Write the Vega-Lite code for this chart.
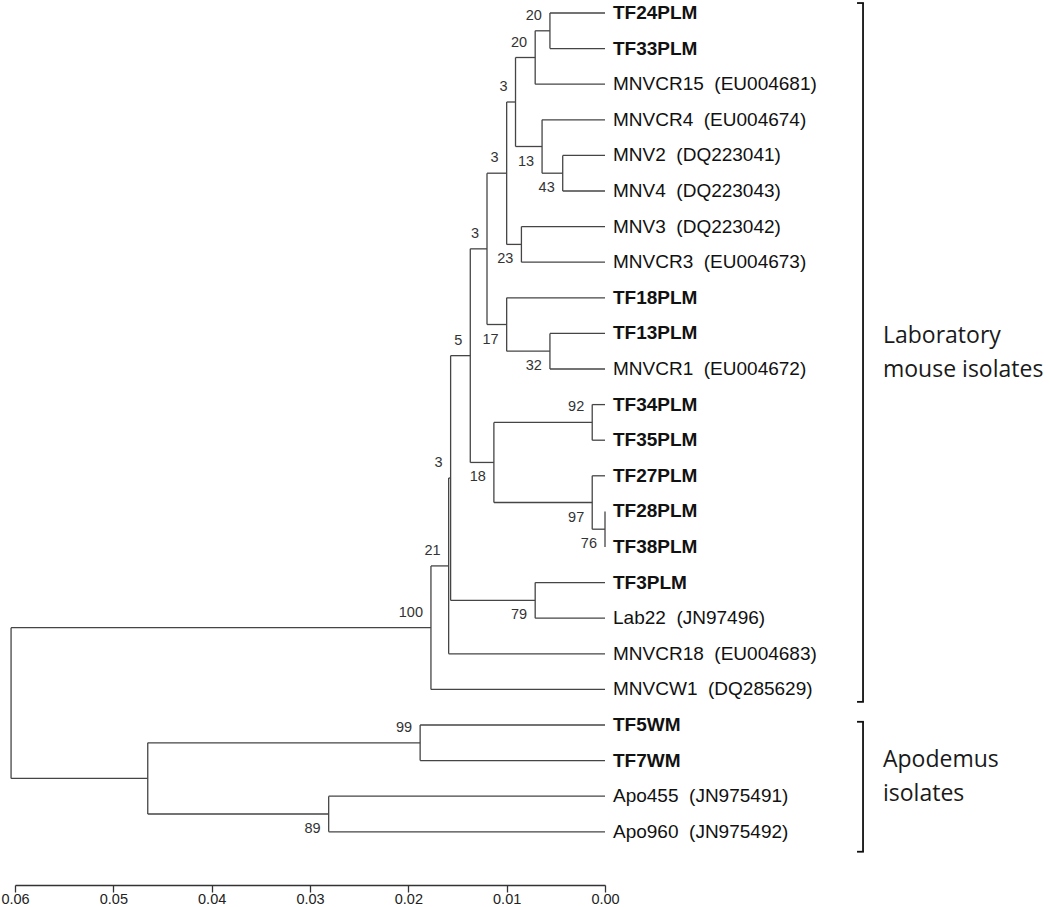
{
  "$schema": "https://vega.github.io/schema/vega-lite/v6.json",
  "width": 590,
  "height": 885,
  "autosize": {"type": "none"},
  "padding": {"left": 15, "top": 0, "right": 445, "bottom": 22},
  "background": "white",
  "config": {"view": {"stroke": null}},
  "datasets": {
    "segments": [
      {"x":0.0056,"x2":0,"y":0,"y2":0},
      {"x":0.0056,"x2":0,"y":1,"y2":1},
      {"x":0.0071,"x2":0,"y":2,"y2":2},
      {"x":0.0064,"x2":0,"y":3,"y2":3},
      {"x":0.0043,"x2":0,"y":4,"y2":4},
      {"x":0.0043,"x2":0,"y":5,"y2":5},
      {"x":0.0085,"x2":0,"y":6,"y2":6},
      {"x":0.0085,"x2":0,"y":7,"y2":7},
      {"x":0.0100,"x2":0,"y":8,"y2":8},
      {"x":0.0056,"x2":0,"y":9,"y2":9},
      {"x":0.0056,"x2":0,"y":10,"y2":10},
      {"x":0.0013,"x2":0,"y":11,"y2":11},
      {"x":0.0013,"x2":0,"y":12,"y2":12},
      {"x":0.0013,"x2":0,"y":13,"y2":13},
      {"x":0.0071,"x2":0,"y":16,"y2":16},
      {"x":0.0071,"x2":0,"y":17,"y2":17},
      {"x":0.0159,"x2":0,"y":18,"y2":18},
      {"x":0.0177,"x2":0,"y":19,"y2":19},
      {"x":0.0188,"x2":0,"y":20,"y2":20},
      {"x":0.0188,"x2":0,"y":21,"y2":21},
      {"x":0.0281,"x2":0,"y":22,"y2":22},
      {"x":0.0281,"x2":0,"y":23,"y2":23},
      {"x":0.0071,"x2":0.0056,"y":0.5,"y2":0.5},
      {"x":0.0091,"x2":0.0071,"y":1.25,"y2":1.25},
      {"x":0.0064,"x2":0.0043,"y":4.5,"y2":4.5},
      {"x":0.0091,"x2":0.0064,"y":3.75,"y2":3.75},
      {"x":0.0100,"x2":0.0091,"y":2.5,"y2":2.5},
      {"x":0.0100,"x2":0.0085,"y":6.5,"y2":6.5},
      {"x":0.0120,"x2":0.0100,"y":4.5,"y2":4.5},
      {"x":0.0100,"x2":0.0056,"y":9.5,"y2":9.5},
      {"x":0.0120,"x2":0.0100,"y":8.75,"y2":8.75},
      {"x":0.0137,"x2":0.0120,"y":6.625,"y2":6.625},
      {"x":0.0113,"x2":0.0013,"y":11.5,"y2":11.5},
      {"x":0.0013,"x2":0,"y":14.5,"y2":14.5},
      {"x":0.0113,"x2":0.0013,"y":13.75,"y2":13.75},
      {"x":0.0137,"x2":0.0113,"y":12.625,"y2":12.625},
      {"x":0.0157,"x2":0.0137,"y":9.625,"y2":9.625},
      {"x":0.0157,"x2":0.0071,"y":16.5,"y2":16.5},
      {"x":0.0159,"x2":0.0157,"y":13.0625,"y2":13.0625},
      {"x":0.0177,"x2":0.0159,"y":15.5313,"y2":15.5313},
      {"x":0.0604,"x2":0.0177,"y":17.2656,"y2":17.2656},
      {"x":0.0465,"x2":0.0188,"y":20.5,"y2":20.5},
      {"x":0.0465,"x2":0.0281,"y":22.5,"y2":22.5},
      {"x":0.0604,"x2":0.0465,"y":21.5,"y2":21.5},
      {"x":0.0056,"x2":0.0056,"y":0,"y2":1},
      {"x":0.0071,"x2":0.0071,"y":0.5,"y2":2},
      {"x":0.0043,"x2":0.0043,"y":4,"y2":5},
      {"x":0.0064,"x2":0.0064,"y":3,"y2":4.5},
      {"x":0.0091,"x2":0.0091,"y":1.25,"y2":3.75},
      {"x":0.0085,"x2":0.0085,"y":6,"y2":7},
      {"x":0.0100,"x2":0.0100,"y":2.5,"y2":6.5},
      {"x":0.0056,"x2":0.0056,"y":9,"y2":10},
      {"x":0.0100,"x2":0.0100,"y":8,"y2":9.5},
      {"x":0.0120,"x2":0.0120,"y":4.5,"y2":8.75},
      {"x":0.0013,"x2":0.0013,"y":11,"y2":12},
      {"x":0,"x2":0,"y":14,"y2":15},
      {"x":0.0013,"x2":0.0013,"y":13,"y2":14.5},
      {"x":0.0113,"x2":0.0113,"y":11.5,"y2":13.75},
      {"x":0.0137,"x2":0.0137,"y":6.625,"y2":12.625},
      {"x":0.0071,"x2":0.0071,"y":16,"y2":17},
      {"x":0.0157,"x2":0.0157,"y":9.625,"y2":16.5},
      {"x":0.0159,"x2":0.0159,"y":13.0625,"y2":18},
      {"x":0.0177,"x2":0.0177,"y":15.5313,"y2":19},
      {"x":0.0188,"x2":0.0188,"y":20,"y2":21},
      {"x":0.0281,"x2":0.0281,"y":22,"y2":23},
      {"x":0.0465,"x2":0.0465,"y":20.5,"y2":22.5},
      {"x":0.0604,"x2":0.0604,"y":17.2656,"y2":21.5}
    ],
    "leaves": [
      {"y":0,"label":"TF24PLM","bold":true},
      {"y":1,"label":"TF33PLM","bold":true},
      {"y":2,"label":"MNVCR15\u00a0 (EU004681)","bold":false},
      {"y":3,"label":"MNVCR4\u00a0 (EU004674)","bold":false},
      {"y":4,"label":"MNV2\u00a0 (DQ223041)","bold":false},
      {"y":5,"label":"MNV4\u00a0 (DQ223043)","bold":false},
      {"y":6,"label":"MNV3\u00a0 (DQ223042)","bold":false},
      {"y":7,"label":"MNVCR3\u00a0 (EU004673)","bold":false},
      {"y":8,"label":"TF18PLM","bold":true},
      {"y":9,"label":"TF13PLM","bold":true},
      {"y":10,"label":"MNVCR1\u00a0 (EU004672)","bold":false},
      {"y":11,"label":"TF34PLM","bold":true},
      {"y":12,"label":"TF35PLM","bold":true},
      {"y":13,"label":"TF27PLM","bold":true},
      {"y":14,"label":"TF28PLM","bold":true},
      {"y":15,"label":"TF38PLM","bold":true},
      {"y":16,"label":"TF3PLM","bold":true},
      {"y":17,"label":"Lab22\u00a0 (JN97496)","bold":false},
      {"y":18,"label":"MNVCR18\u00a0 (EU004683)","bold":false},
      {"y":19,"label":"MNVCW1\u00a0 (DQ285629)","bold":false},
      {"y":20,"label":"TF5WM","bold":true},
      {"y":21,"label":"TF7WM","bold":true},
      {"y":22,"label":"Apo455\u00a0 (JN975491)","bold":false},
      {"y":23,"label":"Apo960\u00a0 (JN975492)","bold":false}
    ],
    "nodes": [
      {"x":0.0056,"y":0.5,"support":20,"pos":"above"},
      {"x":0.0071,"y":1.25,"support":20,"pos":"above"},
      {"x":0.0043,"y":4.5,"support":43,"pos":"below"},
      {"x":0.0064,"y":3.75,"support":13,"pos":"below"},
      {"x":0.0091,"y":2.5,"support":3,"pos":"above"},
      {"x":0.0085,"y":6.5,"support":23,"pos":"below"},
      {"x":0.0100,"y":4.5,"support":3,"pos":"above"},
      {"x":0.0056,"y":9.5,"support":32,"pos":"below"},
      {"x":0.0100,"y":8.75,"support":17,"pos":"below"},
      {"x":0.0120,"y":6.625,"support":3,"pos":"above"},
      {"x":0.0013,"y":11.5,"support":92,"pos":"above"},
      {"x":0,"y":14.5,"support":76,"pos":"below"},
      {"x":0.0013,"y":13.75,"support":97,"pos":"below"},
      {"x":0.0113,"y":12.625,"support":18,"pos":"below"},
      {"x":0.0137,"y":9.625,"support":5,"pos":"above"},
      {"x":0.0071,"y":16.5,"support":79,"pos":"below"},
      {"x":0.0157,"y":13.0625,"support":3,"pos":"above"},
      {"x":0.0159,"y":15.5313,"support":21,"pos":"above"},
      {"x":0.0177,"y":17.2656,"support":100,"pos":"above"},
      {"x":0.0188,"y":20.5,"support":99,"pos":"above"},
      {"x":0.0281,"y":22.5,"support":89,"pos":"below"}
    ],
    "groups": [
      {"y":-0.28,"y2":19.35,"ty":9.267,"label":"Laboratory|mouse isolates"},
      {"y":19.91,"y2":23.56,"ty":21.17,"label":"Apodemus|isolates"}
    ]
  },
  "layer": [
    {
      "data": {"name": "segments"},
      "mark": {"type": "rule", "color": "#454545", "strokeWidth": 1.3},
      "encoding": {
        "x": {"field": "x", "type": "quantitative",
              "scale": {"domain": [0, 0.06], "reverse": true, "nice": false, "zero": false},
              "axis": {"title": null, "values": [0, 0.01, 0.02, 0.03, 0.04, 0.05, 0.06], "format": ".2f",
                       "grid": false, "labelFlush": false, "labelOverlap": false,
                       "labelFont": "Liberation Sans", "labelFontSize": 14.5, "labelColor": "#222",
                       "labelPadding": 0, "tickSize": 7, "tickColor": "#333", "tickWidth": 1.3,
                       "domainColor": "#333", "domainWidth": 1.3}},
        "x2": {"field": "x2"},
        "y": {"field": "y", "type": "quantitative",
              "scale": {"domain": [-0.3652, 24.4944], "reverse": true, "nice": false, "zero": false},
              "axis": null},
        "y2": {"field": "y2"}
      }
    },
    {
      "data": {"name": "leaves"},
      "transform": [{"filter": "datum.bold"}],
      "mark": {"type": "text", "align": "left", "baseline": "middle", "dx": 8, "font": "Liberation Sans", "fontSize": 19, "fontWeight": "bold", "color": "#111"},
      "encoding": {
        "x": {"datum": 0, "type": "quantitative"},
        "y": {"field": "y", "type": "quantitative"},
        "text": {"field": "label"}
      }
    },
    {
      "data": {"name": "leaves"},
      "transform": [{"filter": "!datum.bold"}],
      "mark": {"type": "text", "align": "left", "baseline": "middle", "dx": 8, "font": "Liberation Sans", "fontSize": 19, "color": "#111"},
      "encoding": {
        "x": {"datum": 0, "type": "quantitative"},
        "y": {"field": "y", "type": "quantitative"},
        "text": {"field": "label"}
      }
    },
    {
      "data": {"name": "nodes"},
      "transform": [{"filter": "datum.pos == 'above'"}],
      "mark": {"type": "text", "align": "right", "baseline": "middle", "dx": -8, "dy": -15, "font": "Liberation Sans", "fontSize": 14.5, "color": "#333"},
      "encoding": {
        "x": {"field": "x", "type": "quantitative"},
        "y": {"field": "y", "type": "quantitative"},
        "text": {"field": "support"}
      }
    },
    {
      "data": {"name": "nodes"},
      "transform": [{"filter": "datum.pos == 'below'"}],
      "mark": {"type": "text", "align": "right", "baseline": "middle", "dx": -8, "dy": 15, "font": "Liberation Sans", "fontSize": 14.5, "color": "#333"},
      "encoding": {
        "x": {"field": "x", "type": "quantitative"},
        "y": {"field": "y", "type": "quantitative"},
        "text": {"field": "support"}
      }
    },
    {
      "data": {"name": "groups"},
      "mark": {"type": "rule", "color": "#111", "strokeWidth": 1.8},
      "encoding": {
        "x": {"datum": -0.02624, "type": "quantitative"},
        "y": {"field": "y", "type": "quantitative"},
        "y2": {"field": "y2"}
      }
    },
    {
      "data": {"name": "groups"},
      "mark": {"type": "rule", "color": "#111", "strokeWidth": 1.8},
      "encoding": {
        "x": {"datum": -0.02563, "type": "quantitative"},
        "x2": {"datum": -0.02633},
        "y": {"field": "y", "type": "quantitative"}
      }
    },
    {
      "data": {"name": "groups"},
      "mark": {"type": "rule", "color": "#111", "strokeWidth": 1.8},
      "encoding": {
        "x": {"datum": -0.02563, "type": "quantitative"},
        "x2": {"datum": -0.02633},
        "y": {"field": "y2", "type": "quantitative"}
      }
    },
    {
      "data": {"name": "groups"},
      "mark": {"type": "text", "align": "left", "baseline": "alphabetic", "lineBreak": "|", "lineHeight": 34, "font": "Open Sans", "fontSize": 23, "color": "#1a1a1a"},
      "encoding": {
        "x": {"datum": -0.02827, "type": "quantitative"},
        "y": {"field": "ty", "type": "quantitative"},
        "text": {"field": "label"}
      }
    }
  ]
}
